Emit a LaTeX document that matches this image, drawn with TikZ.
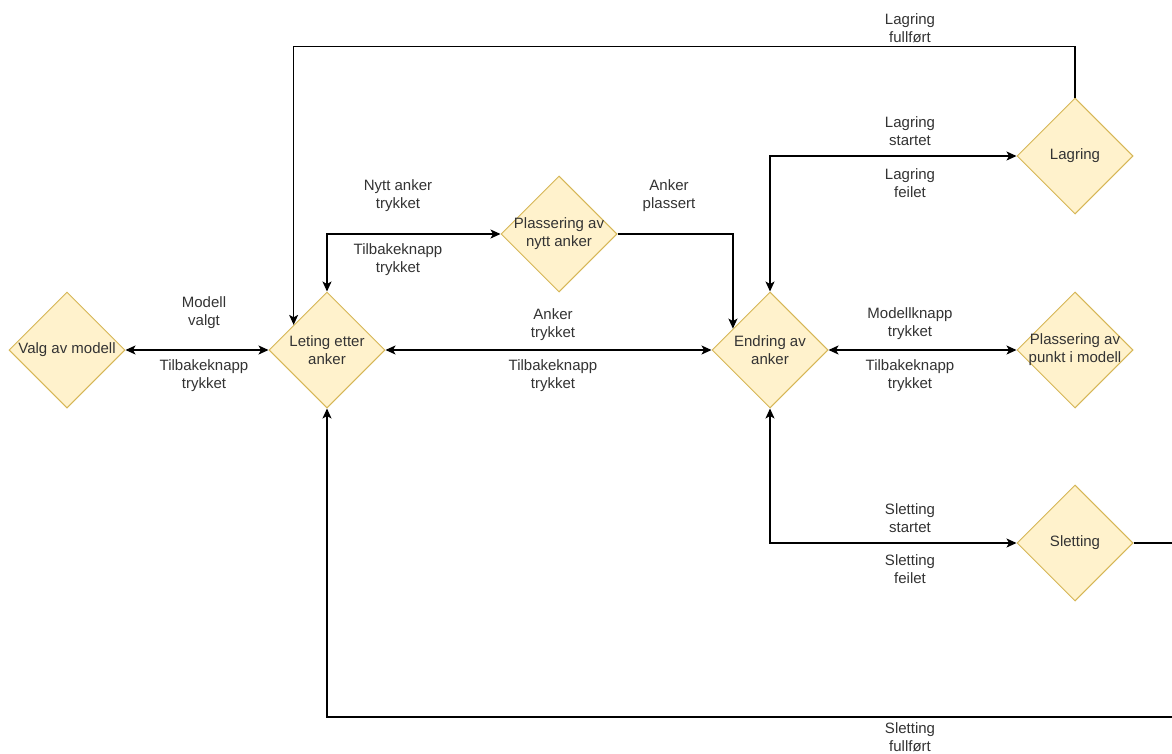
\documentclass[tikz,border=0pt]{standalone}
\usepackage{fontspec}
\setmainfont{Liberation Sans}
\usetikzlibrary{shapes.geometric,arrows.meta}
\definecolor{statefill}{HTML}{FFF2CC}
\definecolor{stateline}{HTML}{D6B656}
\definecolor{txt}{HTML}{333333}
\begin{document}
\begin{tikzpicture}[x=1pt,y=-1pt,
  state/.style={diamond,draw=stateline,fill=statefill,line width=1pt,
    minimum width=116pt,minimum height=116pt,inner sep=0pt,inner xsep=-8pt,
    align=center,text=txt,font=\fontsize{15}{18}\selectfont},
  lbl/.style={align=center,text=txt,inner sep=0pt,font=\fontsize{15}{18}\selectfont},
  conn/.style={line width=1.2pt,>={Stealth[length=10pt,width=9pt,inset=2.5pt]}}]
  % Page
  \fill[white] (0,0) rectangle (1172,753);
  \clip (0,0) rectangle (1172,753);
  % States
  \node[state] (valg) at (67,350) {Valg av modell};
  \node[state] (leting) at (327,350) {Leting etter\\anker};
  \node[state] (nytt) at (559,234) {Plassering av\\nytt anker};
  \node[state] (endring) at (770,350) {Endring av\\anker};
  \node[state] (lagring) at (1075,156) {Lagring};
  \node[state] (punkt) at (1075,350) {Plassering av\\punkt i modell};
  \node[state] (sletting) at (1075,543) {Sletting};
  % Transitions
  \draw[conn,<->] (valg) -- (leting);
  \draw[conn,<->] (leting) -- (endring);
  \draw[conn,<->] (endring) -- (punkt);
  \draw[conn,<->] (leting.north) |- (nytt.west);
  \draw[conn,->] (nytt.east) -| (endring.150);
  \draw[conn,<->] (endring.north) |- (lagring.west);
  \draw[conn,->] (lagring.north) -- ++(0,-51) -| (leting.143);
  \draw[conn,<->] (endring.south) |- (sletting.west);
  \draw[conn,->] (sletting.east) -- ++(60,0) -- ++(0,174) -| (leting.south);
  % Transition labels
  \node[lbl] (lvalgt) at (204,313) {Modell\\valgt};
  \node[lbl] (ltilb1) at (204,376) {Tilbakeknapp\\trykket};
  \node[lbl] (lnytt) at (398,196) {Nytt anker\\trykket};
  \node[lbl] (ltilb2) at (398,260) {Tilbakeknapp\\trykket};
  \node[lbl] (lplass) at (669,196) {Anker\\plassert};
  \node[lbl] (lanker) at (553,325) {Anker\\trykket};
  \node[lbl] (ltilb3) at (553,376) {Tilbakeknapp\\trykket};
  \node[lbl] (lfullf) at (910,28) {Lagring\\fullført};
  \node[lbl] (lstart) at (910,131) {Lagring\\startet};
  \node[lbl] (lfeil) at (910,183) {Lagring\\feilet};
  \node[lbl] (lmodk) at (910,324) {Modellknapp\\trykket};
  \node[lbl] (ltilb4) at (910,376) {Tilbakeknapp\\trykket};
  \node[lbl] (lsstart) at (910,518) {Sletting\\startet};
  \node[lbl] (lsfeil) at (910,569) {Sletting\\feilet};
  \node[lbl] (lsfullf) at (910,737) {Sletting\\fullført};
\end{tikzpicture}
\end{document}
